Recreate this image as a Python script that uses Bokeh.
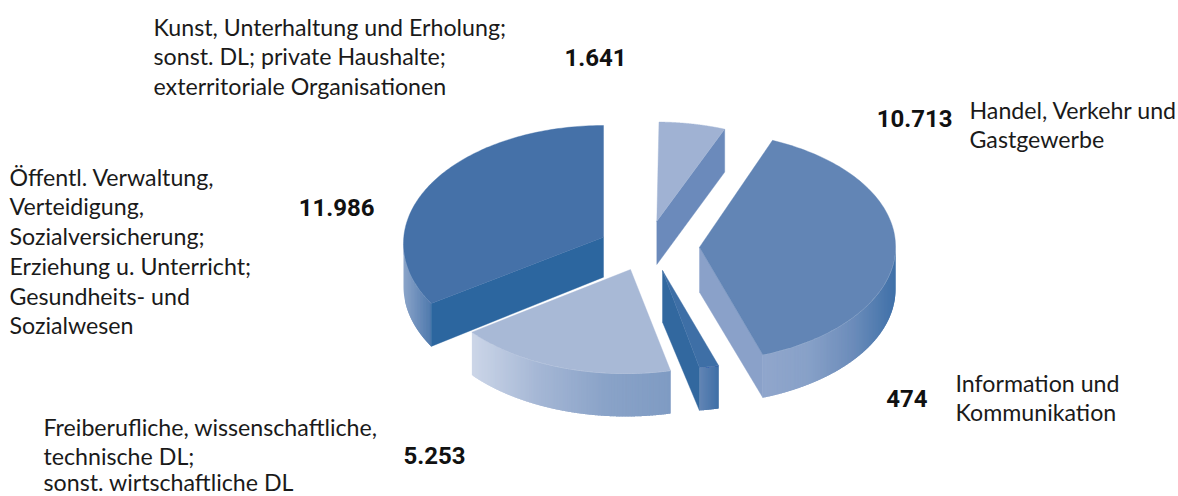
import numpy as np
from bokeh.plotting import figure
from bokeh.models import Range1d, ColumnDataSource
from bokeh.core.properties import value
from bokeh.embed import file_html
from bokeh.resources import INLINE

# ---- chart values ----
sectors = ["Kunst", "Handel", "Information", "Freiberufliche", "Öffentlich"]
values = [1641, 10713, 474, 5253, 11986]
value_labels = ["1.641", "10.713", "474", "5.253", "11.986"]
label_lines = [
    ["Kunst, Unterhaltung und Erholung;", "sonst. DL; private Haushalte;", "exterritoriale Organisationen"],
    ["Handel, Verkehr und", "Gastgewerbe"],
    ["Information und", "Kommunikation"],
    ["Freiberufliche, wissenschaftliche,", "technische DL;", "sonst. wirtschaftliche DL"],
    ["Öffentl. Verwaltung,", "Verteidigung,", "Sozialversicherung;", "Erziehung u. Unterricht;", "Gesundheits- und", "Sozialwesen"],
]

# ---- geometry of the exploded, perspective-skewed pie ----
RX, DEPTH = 200.0, 43.0
centers = [(655, 236.5), (695, 246), (672.8, 253), (625, 258), (603, 243)]
radii_y = [115, 115, 115, 115, 118]
apexes = [(656.3, 220.7), (699, 246.7), (662, 270), (630, 269), (603, 236.7)]
apex_depth = [43.3, 45, 51.7, 0, 40]
skew_start = [1, 3, 19, 13.4, 23]
skew_end = [0.6, 12.4, 18.9, 13.7, 0]
cut_side = ["end", "end", "end", None, "start"]

# ---- styles ----
top_colors = ["#a0b2d3", "#6285b5", "#3e6fa6", "#a8b9d6", "#4571a8"]
cut_colors = ["#6b8abb", "#8aa1c9", "#32689f", None, "#2c669f"]
wall_stops = [
    ["#6b8abb", "#6b8abb"],
    ["#90a6cc", "#88a1c8", "#6d8dbb", "#3f70a8"],
    ["#6285b5", "#3f6fa6"],
    ["#ccd6e8", "#a5b7d5", "#8aa3c8", "#7f9bc3"],
    ["#8ba4c9", "#4f79ad"],
]
# (left x, text y) for the label blocks; (right x, text y) for the numbers
label_pos = [(153, [26, 55, 85]), (969, [109, 138]), (955, [382, 411]),
             (43, [426, 455, 481]), (9, [176, 205, 235, 265, 295, 324])]
value_pos = [(626, 57), (952, 118), (927, 398), (465, 455), (374, 207)]
LABEL_FONT, LABEL_SIZE = "Lato", "23.2px"
VALUE_FONT, VALUE_SIZE = "Roboto", "24px"
TEXT_COLOR = "#1a1a1a"
EDGE = "#d5deec"

p = figure(width=1178, height=496, x_range=Range1d(0, 1178), y_range=Range1d(496, 0),
           output_backend="svg", toolbar_location=None, min_border=0,
           outline_line_color=None, background_fill_color="white", border_fill_color="white")
p.axis.visible = False
p.grid.visible = False


def hex_rgb(h):
    return np.array([int(h[i:i + 2], 16) for i in (1, 3, 5)], dtype=float)


def grad(stops, f):
    pos = f * (len(stops) - 1)
    i = min(int(pos), len(stops) - 2)
    c = hex_rgb(stops[i]) * (1 - (pos - i)) + hex_rgb(stops[i + 1]) * (pos - i)
    return "#%02x%02x%02x" % tuple(int(round(v)) for v in c)


edges = np.concatenate([[0], np.cumsum(values)]) / sum(values) * 360.0
for i in range(len(values)):
    t0, t1 = edges[i] + skew_start[i], edges[i + 1] + skew_end[i]
    cx, cy = centers[i]
    ry = radii_y[i]
    ax, ay = apexes[i]

    def rim(t):
        r = np.radians(t)
        return cx + RX * np.sin(r), cy - ry * np.cos(r)

    # outer wall, as narrow overlapping strips with a horizontal gradient
    w0, w1 = max(t0, 90.0), min(t1, 270.0)
    if w1 > w0:
        dense = np.linspace(w0, w1, 800)
        dx, dy = rim(dense)
        order = np.argsort(dx)
        dx, dy = dx[order], dy[order]
        lo, hi = dx[0], dx[-1]
        ux = np.append(np.arange(lo, hi, 1.5), hi)
        sx, sy, sc = [], [], []
        for k in range(len(ux) - 1):
            j = np.where((dx >= ux[k]) & (dx <= ux[min(k + 2, len(ux) - 1)]))[0]
            if len(j) < 2:
                continue
            sx.append(np.concatenate([dx[j], dx[j][::-1]]))
            sy.append(np.concatenate([dy[j], dy[j][::-1] + DEPTH]))
            sc.append(grad(wall_stops[i], ((ux[k] + ux[k + 1]) / 2 - lo) / (hi - lo)))
        p.patches(sx, sy, fill_color=sc, line_color=None)
        p.line(dx, dy, line_color=EDGE, line_width=0.7, line_alpha=0.8)

    # cut face
    if cut_side[i]:
        ex, ey = rim(t1 if cut_side[i] == "end" else t0)
        p.patch([ax, ex, ex, ax], [ay, ey, ey + DEPTH, ay + apex_depth[i]],
                fill_color=cut_colors[i], line_color=cut_colors[i], line_width=0.4)

    # top face
    ts = np.linspace(t0, t1, 120)
    xs, ys = rim(ts)
    p.patch(np.concatenate([[ax], xs]), np.concatenate([[ay], ys]),
            fill_color=top_colors[i], line_color=top_colors[i], line_width=0.4)

# labels
lx, ly, lt = [], [], []
for (x0, bases), lines in zip(label_pos, label_lines):
    for b, s in zip(bases, lines):
        lx.append(x0)
        ly.append(b)
        lt.append(s)
p.text(x="x", y="y", text="t", source=ColumnDataSource(dict(x=lx, y=ly, t=lt)),
       text_font=value(LABEL_FONT), text_font_size=LABEL_SIZE, text_color=TEXT_COLOR,
       text_baseline="alphabetic", text_align="left")
p.text(x="x", y="y", text="t",
       source=ColumnDataSource(dict(x=[q[0] for q in value_pos], y=[q[1] for q in value_pos], t=value_labels)),
       text_font=value(VALUE_FONT), text_font_size=VALUE_SIZE, text_font_style="bold", text_color="#111111",
       text_baseline="alphabetic", text_align="right")

open("out.html", "w").write(file_html(p, INLINE))
